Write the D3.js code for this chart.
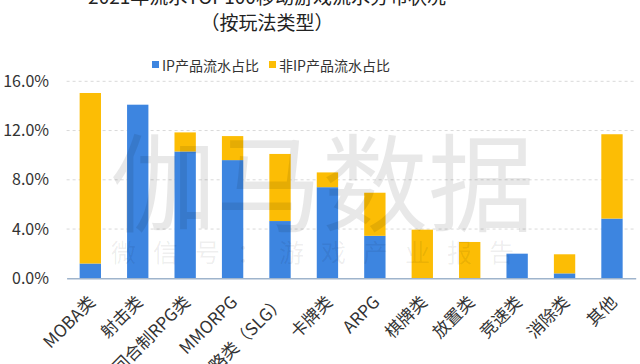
<!DOCTYPE html>
<html>
<head>
<meta charset="utf-8">
<script src="https://cdn.jsdelivr.net/npm/d3@7"></script>
<style>
  body { margin: 0; background: #fff; }
  svg text { font-family: "Noto Sans CJK SC", "Noto Sans", sans-serif; }
</style>
</head>
<body>
<div id="container"></div>
<script>
/* DATA */
const categories = ["MOBA类", "射击类", "回合制RPG类", "MMORPG", "策略类（SLG）", "卡牌类",
  "ARPG", "棋牌类", "放置类", "竞速类", "消除类", "其他"];
const ipShare = [1.2, 14.1, 10.3, 9.6, 4.65, 7.4, 3.45, 0, 0, 2.0, 0.4, 4.85];
const nonIpShare = [13.85, 0, 1.55, 1.95, 5.45, 1.2, 3.5, 3.95, 2.95, 0, 1.55, 6.85];
const seriesNames = ["IP产品流水占比", "非IP产品流水占比"];
const yTicks = [0, 4, 8, 12, 16];

const width = 640, height = 364;
const blue = "#3d85e0", yellow = "#fcbd05";

const svg = d3.select("#container")
  .append("svg")
  .attr("width", width)
  .attr("height", height);

// scales
const x = d3.scaleBand()
  .domain(categories)
  .range([66.6, 635.7])
  .paddingInner(0.55)
  .paddingOuter(0.275);

const y = d3.scaleLinear()
  .domain([0, 16])
  .range([278.3, 81.3]);

// title (top line is cut off by the frame)
svg.append("text")
  .attr("x", 267).attr("y", 4)
  .attr("text-anchor", "middle")
  .attr("font-size", 19)
  .attr("fill", "#222")
  .text("2021年流水TOP100移动游戏流水分布状况");
svg.append("text")
  .attr("x", 267).attr("y", 30)
  .attr("text-anchor", "middle")
  .attr("font-size", 19)
  .attr("fill", "#222")
  .text("（按玩法类型）");

// legend
const legend = svg.append("g").attr("font-size", 14);
const legendX = [152, 269];
seriesNames.forEach((name, i) => {
  legend.append("rect")
    .attr("x", legendX[i]).attr("y", 61)
    .attr("width", 7).attr("height", 7)
    .attr("fill", i === 0 ? blue : yellow);
  legend.append("text")
    .attr("x", legendX[i] + 10).attr("y", 65)
    .attr("dominant-baseline", "central")
    .attr("fill", "#333")
    .text(name);
});

// gridlines
svg.append("g")
  .selectAll("line")
  .data(yTicks.filter(d => d > 0))
  .join("line")
  .attr("x1", 66.6).attr("x2", 635.7)
  .attr("y1", d => y(d)).attr("y2", d => y(d))
  .attr("stroke", "#d9d9d9")
  .attr("stroke-dasharray", "3,3");

// y axis
const yAxis = d3.axisLeft(y)
  .tickValues(yTicks)
  .tickFormat(d => d.toFixed(1) + "%")
  .tickSize(0)
  .tickPadding(0);
svg.append("g")
  .attr("transform", "translate(49,0)")
  .call(yAxis)
  .call(g => g.select(".domain").remove())
  .selectAll("text")
  .attr("font-size", 16)
  .attr("fill", "#333")
  .attr("font-family", "\"Noto Sans CJK SC\", sans-serif");

// stacked bars
const rows = categories.map((c, i) => ({ cat: c, ip: ipShare[i], nonIp: nonIpShare[i] }));
const stack = d3.stack().keys(["ip", "nonIp"])(rows);

svg.append("g")
  .selectAll("g")
  .data(stack)
  .join("g")
  .attr("fill", (d, i) => i === 0 ? blue : yellow)
  .selectAll("rect")
  .data(d => d)
  .join("rect")
  .attr("x", d => x(d.data.cat))
  .attr("width", x.bandwidth())
  .attr("y", d => y(d[1]))
  .attr("height", d => y(d[0]) - y(d[1]));

// x axis line + rotated labels
const xAxis = d3.axisBottom(x).tickSize(0).tickPadding(0);
const xg = svg.append("g")
  .attr("transform", `translate(0, ${y(0)})`)
  .call(xAxis);
xg.select(".domain")
  .attr("stroke", "#9fb4cc")
  .attr("stroke-width", 1.5);
xg.selectAll("text")
  .attr("font-size", 17)
  .attr("fill", "#333")
  .attr("font-family", "\"Noto Sans CJK SC\", sans-serif")
  .attr("text-anchor", "end")
  .attr("dy", 0)
  .attr("transform", "translate(6,25) rotate(-45)");

// watermark
const wm = svg.append("g").attr("fill", "#000").attr("pointer-events", "none");
wm.append("text")
  .attr("x", 322).attr("y", 177)
  .attr("text-anchor", "middle")
  .attr("dominant-baseline", "central")
  .attr("font-size", 106)
  .attr("fill-opacity", 0.09)
  .text("伽马数据");
wm.append("text")
  .attr("x", 321).attr("y", 251)
  .attr("text-anchor", "middle")
  .attr("dominant-baseline", "central")
  .attr("font-size", 25)
  .attr("letter-spacing", 17)
  .attr("fill-opacity", 0.07)
  .text("微信号：游戏产业报告");
</script>
</body>
</html>
